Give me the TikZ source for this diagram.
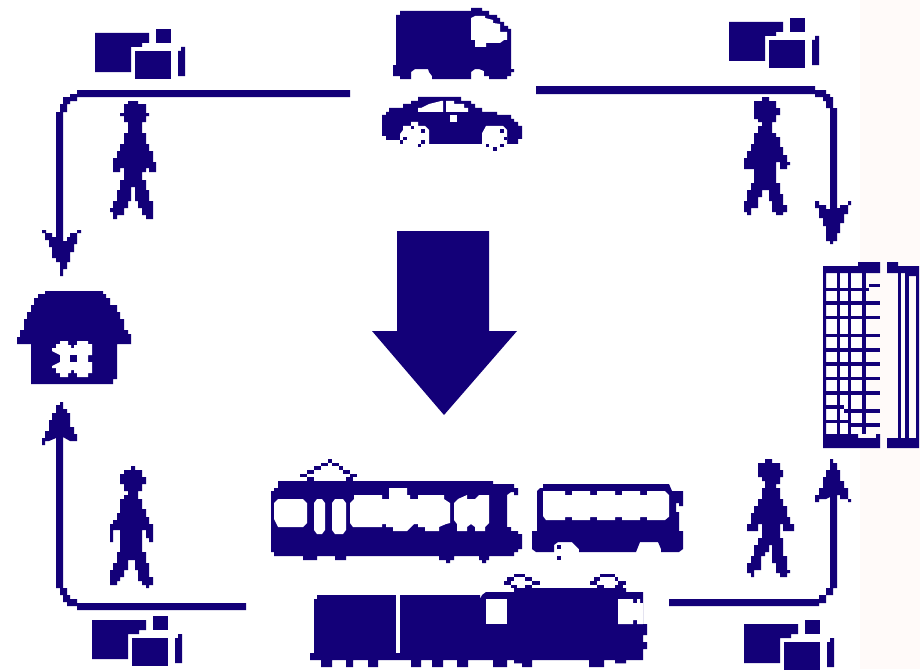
\documentclass[tikz,border=0pt]{standalone}
\definecolor{pictonavy}{HTML}{130078}
\definecolor{tintpink}{HTML}{FFFAF9}
\tikzset{
  zoomed/.style 2 args={shift={(#1pt,-#2pt)},x=0.33333pt,y=-0.33333pt},
  ink/.style={fill=pictonavy,draw=none},
  hole/.style={fill=white,draw=none},
  parcels/.pic={
    \fill[ink] (95,33)--(149,33)--(149,43)--(142,43)--(142,47)--(131,47)--(131,72)--(95,72)--cycle;
    \fill[ink] (156,29) rectangle (171,43);
    \fill[ink] (135,51) rectangle (171,79);
    \fill[ink] (178,51)--(181,51)--(181,47)--(185,47)--(185,76)--(178,76)--cycle;
  }
}
\begin{document}
\begin{tikzpicture}[x=1pt,y=-1pt]
\path[use as bounding box] (0,0) rectangle (920,669);
\fill[white] (0,0) rectangle (920,669);
\fill[tintpink] (860,0) rectangle (920,669);

% parcels
\pic at (0,0) {parcels};
\pic at (634,-11) {parcels};
\pic at (-3,587) {parcels};
\pic at (649,591) {parcels};

% walkers
\fill[ink] (128,101)--(138,101)--(138,104)--(146,104)--(146,113)--(149,113)--(149,116)--(146,116)--(146,122)--(142,122)--(142,129)--(142,133)--(146,133)--(146,144)--(149,144)--(149,151)--(153,151)--(153,162)--(156,162)--(156,172)--(149,172)--(149,168)--(146,168)--(146,172)--(142,172)--(142,180)--(146,180)--(146,190)--(149,190)--(149,201)--(153,201)--(153,219)--(146,219)--(146,215)--(142,215)--(142,208)--(138,208)--(138,201)--(135,201)--(135,187)--(131,187)--(131,201)--(128,201)--(128,208)--(124,208)--(124,215)--(117,215)--(117,219)--(113,219)--(113,212)--(110,212)--(110,208)--(113,208)--(113,201)--(117,201)--(117,190)--(120,190)--(120,180)--(124,180)--(124,172)--(124,168)--(120,168)--(120,172)--(113,172)--(113,158)--(117,158)--(117,151)--(120,151)--(120,144)--(124,144)--(124,133)--(128,133)--(128,122)--(124,122)--(124,116)--(120,116)--(120,113)--(124,113)--(124,104)--(128,104)--cycle;
\fill[ink] (762,97)--(769,97)--(769,101)--(776,101)--(776,108)--(780,108)--(780,115)--(776,115)--(776,122)--(772,122)--(772,133)--(776,133)--(776,137)--(780,137)--(780,147)--(783,147)--(783,155)--(787,155)--(787,162)--(790,162)--(790,165)--(787,165)--(787,169)--(780,169)--(780,162)--(776,162)--(776,183)--(780,183)--(780,194)--(783,194)--(783,205)--(787,205)--(787,212)--(783,212)--(783,215)--(776,215)--(776,212)--(772,212)--(772,201)--(769,201)--(769,190)--(762,190)--(762,197)--(758,197)--(758,208)--(751,208)--(751,215)--(747,215)--(747,212)--(744,212)--(744,201)--(747,201)--(747,190)--(751,190)--(751,183)--(754,183)--(754,169)--(744,169)--(744,158)--(747,158)--(747,151)--(751,151)--(751,144)--(754,144)--(754,133)--(758,133)--(758,126)--(762,126)--(762,122)--(758,122)--(758,119)--(754,119)--(754,101)--(762,101)--cycle;
\fill[ink] (131,466)--(135,466)--(135,470)--(142,470)--(142,477)--(146,477)--(146,484)--(142,484)--(142,491)--(138,491)--(138,499)--(142,499)--(142,509)--(146,509)--(146,517)--(149,517)--(149,524)--(153,524)--(153,542)--(149,542)--(149,538)--(146,538)--(146,530)--(142,530)--(142,552)--(146,552)--(146,563)--(149,563)--(149,577)--(153,577)--(153,585)--(149,585)--(149,588)--(146,588)--(146,585)--(142,585)--(142,581)--(138,581)--(138,570)--(135,570)--(135,560)--(128,560)--(128,570)--(124,570)--(124,577)--(120,577)--(120,581)--(117,581)--(117,585)--(110,585)--(110,570)--(113,570)--(113,563)--(117,563)--(117,552)--(120,552)--(120,530)--(113,530)--(113,542)--(110,542)--(110,524)--(113,524)--(113,520)--(117,520)--(117,513)--(120,513)--(120,499)--(124,499)--(124,495)--(128,495)--(128,491)--(124,491)--(124,484)--(120,484)--(120,474)--(124,474)--(124,470)--(131,470)--cycle;
\fill[ink] (765,459)--(772,459)--(772,463)--(780,463)--(780,470)--(783,470)--(783,477)--(780,477)--(780,484)--(776,484)--(776,488)--(780,488)--(780,499)--(783,499)--(783,506)--(787,506)--(787,517)--(790,517)--(790,524)--(794,524)--(794,531)--(783,531)--(783,524)--(780,524)--(780,538)--(783,538)--(783,556)--(787,556)--(787,570)--(790,570)--(790,573)--(787,573)--(787,577)--(780,577)--(780,573)--(776,573)--(776,563)--(772,563)--(772,545)--(769,545)--(769,552)--(765,552)--(765,556)--(761,556)--(761,570)--(754,570)--(754,577)--(751,577)--(751,573)--(747,573)--(747,563)--(751,563)--(751,556)--(754,556)--(754,545)--(758,545)--(758,538)--(762,538)--(762,524)--(758,524)--(758,531)--(747,531)--(747,524)--(751,524)--(751,513)--(754,513)--(754,506)--(758,506)--(758,499)--(762,499)--(762,488)--(765,488)--(765,481)--(762,481)--(762,477)--(758,477)--(758,463)--(765,463)--cycle;

% connectors: top left
\fill[ink] (350,90)--(77,90)--(77,94)--(70,94)--(70,97)--(63,97)--(63,104)--(60,104)--(60,112)--(56,112)--(56,237)--(52,237)--(52,233)--(46,233)--(46,230)--(42,230)--(42,233)--(45,233)--(45,240)--(49,240)--(49,247)--(52,247)--(52,258)--(56,258)--(56,262)--(60,262)--(60,276)--(63,276)--(63,269)--(67,269)--(67,262)--(70,262)--(70,252)--(74,252)--(74,244)--(77,244)--(77,233)--(81,233)--(81,230)--(77,230)--(77,233)--(70,233)--(70,237)--(67,237)--(67,241)--(63,241)--(63,112)--(67,112)--(67,104)--(70,104)--(70,101)--(77,101)--(77,97)--(350,97)--cycle;
% connectors: top right
\fill[ink] (536,86)--(815,86)--(815,90)--(826,90)--(826,94)--(830,94)--(830,97)--(833,97)--(833,108)--(837,108)--(837,208)--(840,208)--(840,205)--(848,205)--(848,201)--(851,201)--(851,205)--(848,205)--(848,214)--(844,214)--(844,223)--(840,223)--(840,233)--(837,233)--(837,241)--(833,241)--(833,244)--(830,244)--(830,241)--(826,241)--(826,226)--(823,226)--(823,218)--(819,218)--(819,208)--(815,208)--(815,201)--(819,201)--(819,205)--(826,205)--(826,209)--(830,209)--(830,108)--(826,108)--(826,101)--(823,101)--(823,97)--(815,97)--(815,94)--(536,94)--cycle;
% connectors: bottom left
\fill[ink] (246,603)--(77,603)--(77,606)--(67,606)--(67,602)--(63,602)--(63,595)--(60,595)--(60,588)--(56,588)--(56,438)--(49,441)--(45,441)--(45,445)--(42,445)--(42,438)--(45,438)--(45,431)--(49,431)--(49,420)--(52,420)--(52,413)--(56,413)--(56,405)--(60,405)--(60,402)--(63,402)--(63,409)--(67,409)--(67,413)--(70,413)--(70,427)--(74,427)--(74,434)--(77,434)--(77,441)--(70,441)--(63,437)--(63,588)--(67,588)--(67,595)--(70,595)--(70,599)--(77,599)--(77,610)--(246,610)--cycle;
\fill[ink] (77,603) rectangle (246,610);
% connectors: bottom right
\fill[ink] (669,599)--(819,599)--(819,595)--(826,595)--(826,588)--(830,588)--(830,497)--(826,499)--(819,499)--(819,502)--(815,502)--(815,495)--(819,495)--(819,488)--(823,488)--(823,477)--(826,477)--(826,470)--(830,470)--(830,459)--(833,459)--(833,463)--(837,463)--(837,470)--(840,470)--(840,481)--(844,481)--(844,488)--(848,488)--(848,499)--(851,499)--(851,502)--(848,502)--(848,499)--(840,499)--(840,495)--(837,495)--(837,588)--(833,588)--(833,595)--(826,595)--(826,603)--(819,603)--(819,606)--(669,606)--cycle;

% big arrow
\fill[ink] (397,231)--(489,231)--(489,331)--(517,331)--(444,415)--(372,331)--(397,331)--cycle;

% house
\fill[ink] (45,291)--(103,291)--(103,294)--(106,294)--(106,298)--(110,298)--(110,305)--(117,305)--(117,312)--(120,312)--(120,319)--(124,319)--(124,330)--(128,330)--(128,334)--(131,334)--(131,344)--(117,344)--(117,379)--(113,379)--(113,384)--(31,384)--(31,344)--(17,344)--(17,337)--(20,337)--(20,330)--(24,330)--(24,319)--(27,319)--(27,312)--(31,312)--(31,305)--(34,305)--(34,298)--(38,298)--(38,294)--(45,294)--cycle;
\fill[hole] (60,341)--(68,341)--(68,345)--(71,345)--(71,348)--(74,348)--(74,345)--(77,345)--(77,341)--(88,341)--(88,344)--(92,344)--(92,355)--(88,355)--(88,362)--(92,362)--(92,373)--(88,373)--(88,377)--(77,377)--(77,373)--(74,373)--(74,370)--(71,370)--(71,373)--(68,373)--(68,377)--(60,377)--(60,373)--(56,373)--(56,368)--(52,368)--(52,366)--(60,362)--(60,355)--(52,351)--(52,348)--(56,348)--(56,344)--(60,344)--cycle;
\fill[ink] (70,355) rectangle (77,362);

% van
\fill[ink] (471,8)--(482,8)--(482,11)--(489,11)--(489,15)--(497,15)--(497,18)--(500,18)--(500,22)--(504,22)--(504,26)--(508,26)--(508,29)--(511,29)--(511,69)--(514,69)--(514,72)--(511,72)--(511,76)--(507,76)--(507,79)--(489,79)--(489,76)--(484,76)--(484,71)--(479,69)--(475,69)--(471,72)--(471,79)--(432,79)--(432,76)--(429,72)--(428,69)--(415,69)--(411,72)--(411,79)--(400,79)--(400,76)--(393,76)--(393,65)--(396,65)--(396,15)--(400,15)--(400,11)--(471,11)--cycle;
\fill[hole] (471,18)--(475,16)--(485,16)--(485,18)--(493,20)--(493,23)--(500,24)--(500,32)--(504,32)--(507,32)--(507,40)--(504,40)--(500,43)--(497,43)--(486,43)--(486,47)--(475,47)--(475,40)--(471,40)--cycle;

% car, coordinates read off the enlarged crop
\begin{scope}[zoomed={360}{0}]
\fill[ink] (174,291)--(303,291)--(303,303)--(333,303)--(333,312)--(345,312)--(345,324)--(366,324)--(366,336)--(411,336)--(411,345)--(453,345)--(453,357)--(462,357)--(462,366)--(474,366)--(474,378)--(486,378)--(486,417)--(474,417)--(474,432)--(441,432)--(441,400)--(366,400)--(366,432)--(207,432)--(207,400)--(129,400)--(129,420)--(78,420)--(78,408)--(66,408)--(66,345)--(78,345)--(78,336)--(87,336)--(87,324)--(129,324)--(129,312)--(153,312)--(153,303)--(174,303)--cycle;
\fill[hole] (153,366)--(174,366)--(174,378)--(195,378)--(207,390)--(207,432)--(198,441)--(141,441)--(120,432)--(120,402)--(129,390)--(129,378)--(153,378)--cycle;
\fill[hole] (378,378)--(429,378)--(441,390)--(441,430)--(420,450)--(385,450)--(366,432)--(366,400)--cycle;
\foreach \a/\b/\c/\d in {153/378/162/387,183/387/195/399,129/411/141/420,120/420/129/432,183/420/195/432,174/432/183/441,420/387/432/399,432/411/441/420,378/432/387/441,399/441/411/453,420/432/432/441}
  \fill[ink] (\a,\b) rectangle (\c,\d);
\fill[hole] (183,324)--(207,312)--(243,303)--(249,303)--(249,336)--(174,336)--(174,324)--cycle;
\fill[hole] (258,303)--(282,303)--(282,312)--(312,312)--(312,324)--(324,324)--(324,336)--(258,336)--cycle;
\fill[hole] (270,345) rectangle (291,366);
\end{scope}

% tram, bus and train
\begin{scope}[zoomed={260}{450}]
% tram
\fill[ink] (54,93)--(699,93)--(699,102)--(762,102)--(762,114)--(774,114)--(774,135)--(762,135)--(762,126)--(753,126)--(741,135)--(741,231)--(753,231)--(753,243)--(774,243)--(774,252)--(786,252)--(786,297)--(774,297)--(774,306)--(762,306)--(762,318)--(687,318)--(687,330)--(678,330)--(678,339)--(666,339)--(666,330)--(657,330)--(657,318)--(582,318)--(582,330)--(570,330)--(570,339)--(558,339)--(558,330)--(537,330)--(537,318)--(258,318)--(258,330)--(225,330)--(225,318)--(171,318)--(171,330)--(129,330)--(129,318)--(42,318)--(42,306)--(33,306)--(33,123)--(42,123)--(42,114)--(54,114)--cycle;
\fill[hole] (54,147)--(129,147)--(141,159)--(141,219)--(129,231)--(54,231)--(42,207)--(42,159)--cycle;
\fill[hole] (171,147)--(186,147)--(195,159)--(195,240)--(186,252)--(171,252)--(162,240)--(162,159)--cycle;
\fill[hole] (225,147)--(249,147)--(258,159)--(258,240)--(249,252)--(225,252)--(216,240)--(216,159)--cycle;
\fill[hole] (270,159)--(282,147)--(282,135)--(366,135)--(366,147)--(387,147)--(387,114)--(441,114)--(441,135)--(450,135)--(450,147)--(474,147)--(474,135)--(552,135)--(552,147)--(570,159)--(570,219)--(558,222)--(537,231)--(537,243)--(495,243)--(495,231)--(474,231)--(474,222)--(462,222)--(441,243)--(399,243)--(399,231)--(378,231)--(378,222)--(366,222)--(366,231)--(279,231)--(270,219)--cycle;
\fill[hole] (582,159)--(594,147)--(621,135)--(621,147)--(633,147)--(645,147)--(657,135)--(687,135)--(687,219)--(675,231)--(675,243)--(645,243)--(645,231)--(633,222)--(621,231)--(621,243)--(591,243)--(591,222)--(582,210)--cycle;
\foreach \a/\b/\c/\d in {204/27/216/39,183/39/204/48,216/39/237/48,162/48/183/60,237/48/249/60,141/60/162/72,249/60/270/72,120/72/141/81,270/72/291/81,141/81/162/93,258/81/279/93}
  \fill[ink] (\a,\b) rectangle (\c,\d);
% bus
\fill[ink] (849,102)--(1227,102)--(1236,123)--(1269,123)--(1269,168)--(1257,168)--(1257,159)--(1248,159)--(1248,186)--(1257,186)--(1257,243)--(1269,243)--(1269,297)--(1257,306)--(1203,306)--(1203,297)--(1194,276)--(1140,276)--(1128,306)--(957,306)--(957,297)--(936,276)--(894,276)--(882,285)--(882,306)--(828,306)--(816,297)--(816,243)--(831,243)--(831,123)--(840,114)--(849,114)--cycle;
\fill[hole] (849,123)--(915,123)--(915,135)--(936,135)--(936,123)--(990,123)--(990,135)--(1011,135)--(1011,123)--(1065,123)--(1065,135)--(1086,135)--(1086,123)--(1140,123)--(1140,135)--(1161,135)--(1161,123)--(1215,123)--(1227,135)--(1227,200)--(1215,210)--(1161,210)--(1161,201)--(1140,201)--(1140,210)--(1086,210)--(1086,201)--(1065,201)--(1065,210)--(1011,210)--(1011,201)--(990,201)--(990,210)--(936,210)--(936,201)--(915,201)--(915,210)--(858,210)--(849,198)--cycle;
\fill[ink] (891,285) rectangle (903,297);
\fill[ink] (891,318) rectangle (903,330);
% train
\fill[ink] (171,435)--(660,435)--(660,447)--(666,435)--(678,426)--(762,426)--(762,414)--(1098,414)--(1098,426)--(1149,426)--(1149,522)--(1161,522)--(1161,555)--(1149,555)--(1149,576)--(1161,576)--(1161,597)--(1149,597)--(1149,630)--(1098,630)--(1098,640)--(1065,640)--(1065,630)--(1032,630)--(1032,651)--(987,651)--(987,630)--(816,630)--(816,651)--(786,651)--(786,640)--(762,640)--(762,630)--(741,630)--(741,651)--(699,651)--(699,630)--(624,630)--(624,651)--(591,651)--(591,630)--(549,630)--(549,651)--(516,651)--(516,630)--(483,630)--(483,651)--(453,651)--(453,630)--(354,630)--(354,651)--(324,651)--(324,630)--(279,630)--(279,651)--(258,651)--(258,630)--(216,630)--(216,651)--(183,651)--(183,630)--(150,630)--(150,609)--(162,609)--(162,447)--(171,447)--cycle;
\fill[hole] (408,435) rectangle (420,609);
\fill[hole] (678,447) rectangle (741,522);
\fill[hole] (1074,447)--(1119,447)--(1119,459)--(1131,459)--(1131,447)--(1140,447)--(1140,459)--(1149,459)--(1149,522)--(1131,522)--(1131,510)--(1119,510)--(1119,522)--(1074,522)--cycle;
\foreach \a/\b/\c/\d in {762/372/795/381,741/381/762/393,795/381/816/393,732/393/753/405,816/393/840/405,753/405/771/414,795/405/816/414,1020/372/1065/381,1002/381/1020/393,1065/381/1074/393,990/393/1011/405,1074/393/1098/405,1011/405/1032/414,1065/405/1089/414}
  \fill[ink] (\a,\b) rectangle (\c,\d);
\end{scope}

% building
\begin{scope}[zoomed={720}{250}]
\fill[ink] (309,48)--(414,48)--(414,36)--(480,36)--(480,69)--(318,69)--(318,552)--(414,552)--(414,564)--(468,564)--(468,552)--(480,552)--(480,594)--(309,594)--cycle;
\foreach \a/\b/\c/\d in {351/69/360/552,384/69/393/552,426/69/438/552,318/114/447/123,447/102/480/111,318/153/480/165,318/198/480/207,318/252/480/261,318/294/480/306,318/336/480/348,318/381/480/390,318/423/480/435,318/465/372/477,372/477/480/489,318/510/384/519,393/519/480/531}
  \fill[ink] (\a,\b) rectangle (\c,\d);
\fill[ink] (501,36)--(534,36)--(534,48)--(597,48)--(597,594)--(501,594)--(501,564)--(588,564)--(588,78)--(555,78)--(555,69)--(501,69)--cycle;
\fill[ink] (534,69) rectangle (543,564);
\fill[ink] (555,69) rectangle (567,564);
\end{scope}
\end{tikzpicture}
\end{document}
